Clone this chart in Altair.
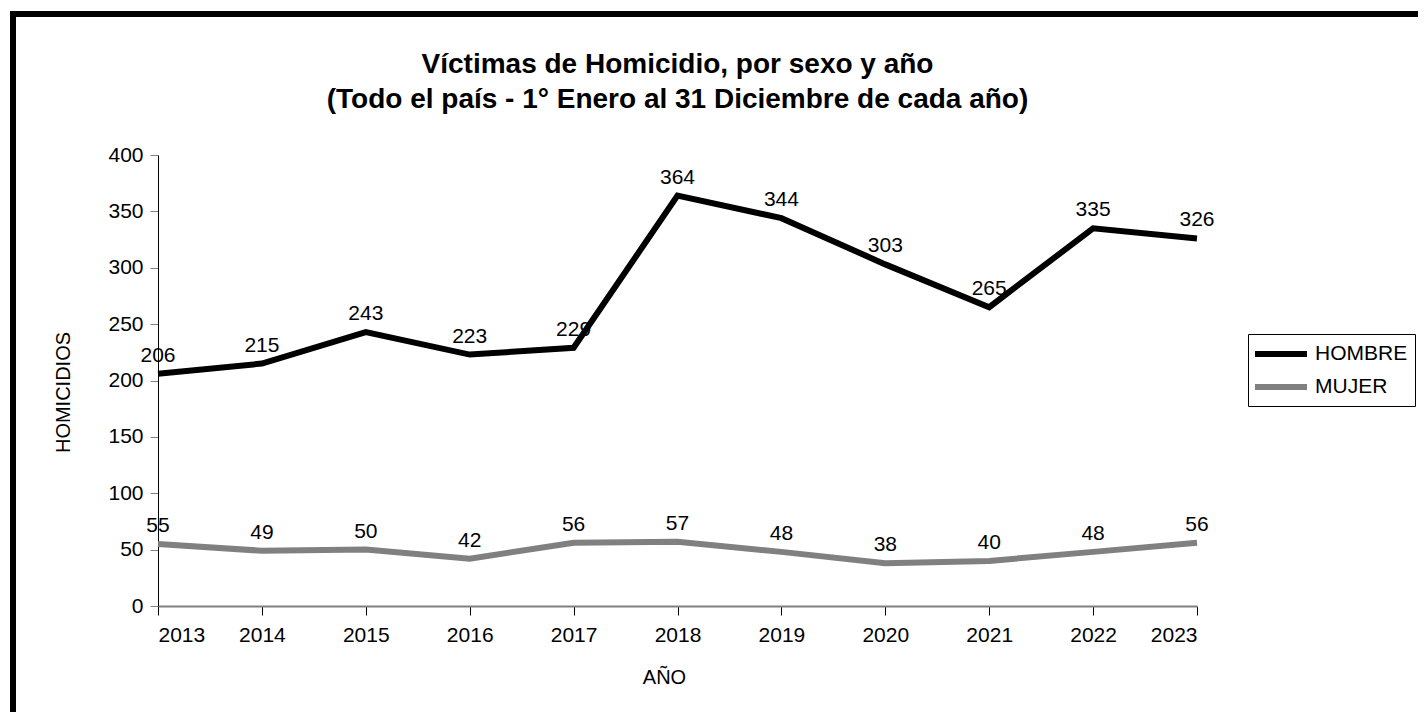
import altair as alt
import pandas as pd

years = [2013, 2014, 2015, 2016, 2017, 2018, 2019, 2020, 2021, 2022, 2023]
hombre = [206, 215, 243, 223, 229, 364, 344, 303, 265, 335, 326]
mujer = [55, 49, 50, 42, 56, 57, 48, 38, 40, 48, 56]
series = ["HOMBRE", "MUJER"]
colors = ["#000000", "#808080"]
y_ticks = [0, 50, 100, 150, 200, 250, 300, 350, 400]

rows = []
for s, vals in zip(series, [hombre, mujer]):
    for yr, v in zip(years, vals):
        rows.append({"AÑO": yr, "HOMICIDIOS": v, "sexo": s})
df = pd.DataFrame(rows)

FONT = "Liberation Sans"

x_enc = alt.X(
    "AÑO:Q",
    scale=alt.Scale(domain=[2013, 2023], nice=False, zero=False),
    axis=alt.Axis(
        values=years, format="d", title="AÑO", grid=False,
        domainColor="#808080", domainWidth=2, tickColor="#000000", tickSize=9,
        labelFontSize=21, labelColor="#000000", labelPadding=9, labelFont=FONT,
        titleFontSize=20, titleFontWeight="normal", titleColor="#000000", titleFont=FONT,
        titlePadding=22, titleX=506,
    ),
)
y_enc = alt.Y(
    "HOMICIDIOS:Q",
    scale=alt.Scale(domain=[0, 400], nice=False),
    axis=alt.Axis(
        values=y_ticks, title="HOMICIDIOS", grid=False,
        domainColor="#000000", domainWidth=1, tickColor="#808080", tickSize=8,
        labelFontSize=21, labelColor="#000000", labelPadding=7, labelFont=FONT,
        titleFontSize=20, titleFontWeight="normal", titleColor="#000000", titleFont=FONT,
        titlePadding=34, titleY=237,
    ),
)
color_enc = alt.Color(
    "sexo:N",
    scale=alt.Scale(domain=series, range=colors),
    legend=alt.Legend(
        title=None, orient="none", legendX=1090, legendY=179,
        strokeColor="#000000", fillColor="#ffffff", padding=7,
        symbolType="M-1.3,0H3.9", symbolSize=400, symbolStrokeWidth=6,
        labelOffset=34, labelFontSize=21, labelFont=FONT, labelColor="#000000",
        rowPadding=8,
    ),
)

base = alt.Chart(df)
lines = base.mark_line(strokeWidth=6).encode(x=x_enc, y=y_enc, color=color_enc)
labels = base.mark_text(
    baseline="alphabetic", align="center", dy=-12, fontSize=21, font=FONT, color="#000000"
).encode(x="AÑO:Q", y="HOMICIDIOS:Q", text="HOMICIDIOS:Q")

frame = alt.Chart(pd.DataFrame({"f": [0]})).mark_rect(
    filled=False, stroke="#000000", strokeWidth=6, fill="transparent"
).encode(
    x=alt.value(-145), x2=alt.value(1320), y=alt.value(-141), y2=alt.value(620)
)

chart = alt.layer(frame, lines, labels).properties(
    width=1039,
    height=451,
    title=alt.TitleParams(
        text=["Víctimas de Homicidio, por sexo y año",
              "(Todo el país - 1° Enero al 31 Diciembre de cada año)"],
        fontSize=28, font=FONT, fontWeight="bold", color="#000000",
        anchor="middle", lineHeight=35, offset=-103,
    ),
    autosize=alt.AutoSizeParams(type="none"),
    padding={"left": 150, "top": 147, "right": 221, "bottom": 106},
).configure(background="#ffffff").configure_view(stroke="transparent", strokeWidth=0)

chart.save("out.html", embed_options={"renderer": "svg", "actions": False})
